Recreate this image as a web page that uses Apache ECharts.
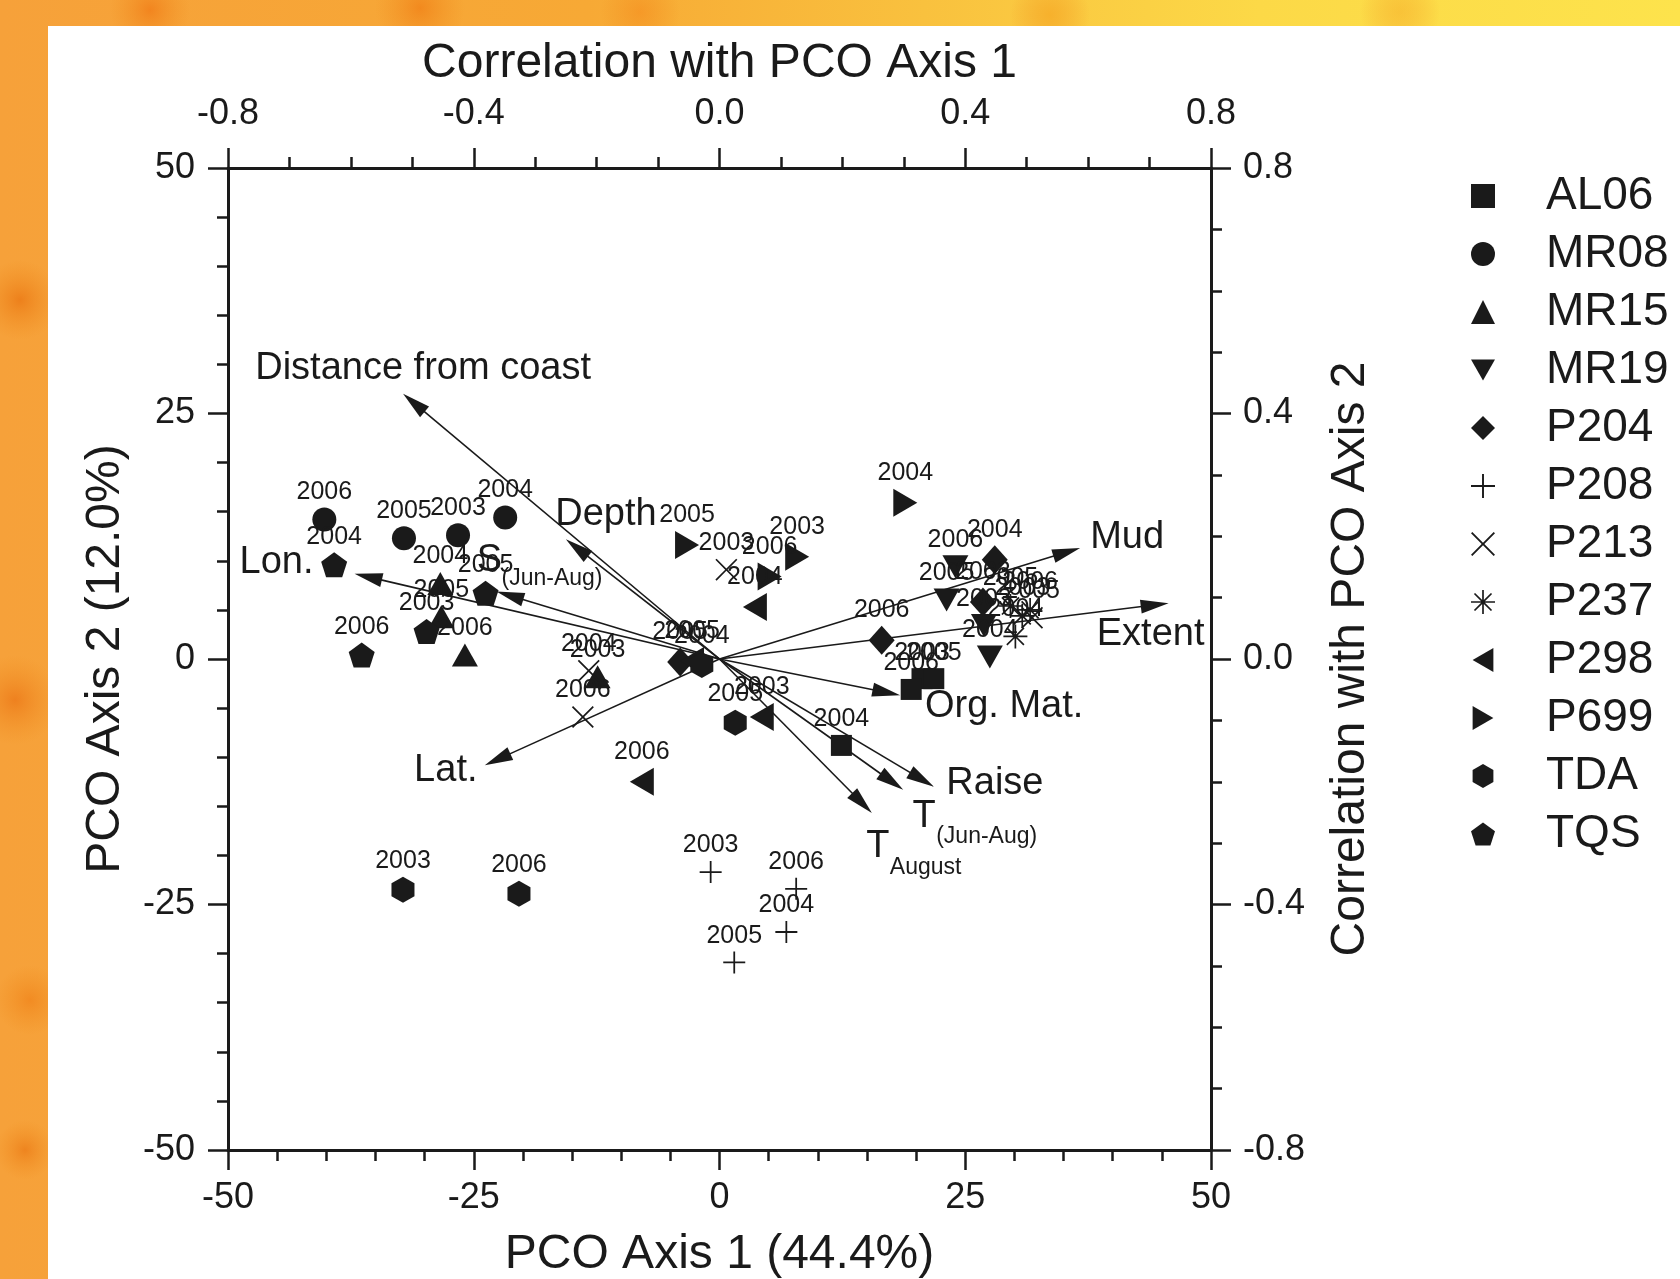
<!DOCTYPE html>
<html><head><meta charset="utf-8">
<script src="https://cdn.jsdelivr.net/npm/echarts@6/dist/echarts.min.js"></script>
<style>html,body{margin:0;padding:0;background:#fff}#c{width:1680px;height:1279px}</style>
</head><body><div id="c"></div>
<script>
// ---------- DATA ----------
const siteNames = ['AL06','MR08','MR15','MR19','P204','P208','P213','P237','P298','P699','TDA','TQS'];
// [PCO1, PCO2, year]
const AL06 = [[12.4,-8.8,'2004'],[20.6,-2.0,'2003'],[21.8,-2.0,'2005'],[19.5,-3.1,'2006']];
const MR08 = [[-40.2,14.2,'2006'],[-32.1,12.3,'2005'],[-26.6,12.6,'2003'],[-21.8,14.4,'2004']];
const MR15 = [[-28.4,7.7,'2004'],[-28.3,4.3,'2005'],[-25.9,0.4,'2006'],[-12.4,-1.8,'2003']];
const MR19 = [[24.0,9.4,'2006'],[23.1,6.0,'2005'],[26.9,3.4,'2003'],[27.5,0.2,'2004']];
const P204 = [[28.0,10.1,'2004'],[16.5,1.9,'2006'],[26.8,5.8,'2003'],[-4.0,-0.3,'2005']];
const P208 = [[-0.9,-21.7,'2003'],[7.8,-23.4,'2006'],[6.8,-27.8,'2004'],[1.5,-30.9,'2005']];
const P213 = [[0.7,9.1,'2003'],[-13.9,-5.9,'2006'],[-13.3,-1.2,'2004'],[31.8,4.2,'2005']];
const P237 = [[30.1,2.3,'2004'],[31.6,5.0,'2006'],[30.8,4.4,'2003'],[29.6,5.4,'2005']];
const P298 = [[3.6,5.3,'2004'],[4.3,-5.9,'2003'],[-7.9,-12.5,'2006'],[-2.8,-0.2,'2005']];
const P699 = [[-3.3,11.6,'2005'],[7.9,10.4,'2003'],[5.1,8.4,'2006'],[18.9,15.9,'2004']];
const TDA  = [[-32.2,-23.5,'2003'],[-20.4,-23.9,'2006'],[1.6,-6.5,'2005'],[-1.8,-0.6,'2004']];
const TQS  = [[-39.2,9.6,'2004'],[-36.4,0.4,'2006'],[-23.8,6.7,'2005'],[-29.8,2.8,'2003']];
const siteData = [AL06,MR08,MR15,MR19,P204,P208,P213,P237,P298,P699,TDA,TQS];

// correlation vectors
const vectorNames = ['Distance from coast','Depth','Lon.','S','Lat.','Mud','Extent','Org. Mat.','Raise','T','T'];
const vectorSubs  = ['','','','(Jun-Aug)','','','','','','(Jun-Aug)','August'];
const vectorX = [-0.515,-0.250,-0.594,-0.363,-0.382,0.587,0.731,0.294,0.349,0.299,0.248];
const vectorY = [ 0.432, 0.195, 0.139, 0.110,-0.173,0.181,0.091,-0.059,-0.208,-0.213,-0.251];

// ---------- STYLE / LAYOUT ----------
const FONT = '"Liberation Sans", Arial, Helvetica, sans-serif';
const INK = '#1a1a1a';
const P_PLUS = 'path://M-0.8,-10L0.8,-10L0.8,-0.8L10,-0.8L10,0.8L0.8,0.8L0.8,10L-0.8,10L-0.8,0.8L-10,0.8L-10,-0.8L-0.8,-0.8Z';
const P_X = 'path://M-10,-8.9L-8.9,-10L0,-1.1L8.9,-10L10,-8.9L1.1,0L10,8.9L8.9,10L0,1.1L-8.9,10L-10,8.9L-1.1,0Z';
const P_STAR = 'path://M-0.7,-10L0.7,-10L0.7,-0.7L10,-0.7L10,0.7L0.7,0.7L0.7,10L-0.7,10L-0.7,0.7L-10,0.7L-10,-0.7L-0.7,-0.7Z' +
  'M-7.6,-6.6L-6.6,-7.6L0,-1L6.6,-7.6L7.6,-6.6L1,0L7.6,6.6L6.6,7.6L0,1L-6.6,7.6L-7.6,6.6L-1,0Z';
const symbolStyles = [
  ['rect',[21,21]],
  ['circle',[24,24]],
  ['triangle',[26,23]],
  ['path://M-10,-8.66L10,-8.66L0,8.66Z',[26,23]],
  ['diamond',[26,29]],
  [P_PLUS,[22,22]],
  [P_X,[22,22]],
  [P_STAR,[24,24]],
  ['path://M-8.66,0L8.66,-10L8.66,10Z',[24,28]],
  ['path://M8.66,0L-8.66,-10L-8.66,10Z',[24,28]],
  ['path://M0,-10L8.66,-5L8.66,5L0,10L-8.66,5L-8.66,-5Z',[23,26]],
  ['path://M0,-10L9.51,-3.09L5.88,8.09L-5.88,8.09L-9.51,-3.09Z',[26,25]]
];
// label offsets (px) from arrow tip: main text centre, subscript left-middle
const labelMainOff = [[20,-25],[40,-25],[-78,-11],[-7,-31],[-39,5],[47,-10],[-18,31],[104,11],[61,-3],[21,27],[6,33]];
const labelSubOff  = [null,null,null,[5,-13],null,null,null,null,null,[33,47],[18,55]];

const chart = echarts.init(document.getElementById('c'), null, {renderer:'canvas'});

function rg(cx, cy, r, c){
  return {type:'circle', z:-99, shape:{cx:cx, cy:cy, r:r}, silent:true,
    style:{fill: new echarts.graphic.RadialGradient(0.5,0.5,0.5,[{offset:0,color:c},{offset:1,color:'rgba(240,140,30,0)'}])}};
}

const series = siteNames.map((n,i)=>({
  name:n, type:'scatter', xAxisIndex:0, yAxisIndex:0, z:5,
  symbol: symbolStyles[i][0], symbolSize: symbolStyles[i][1],
  itemStyle:{color:INK, opacity:1},
  label:{show:true, position:'top', distance:3, fontSize:25, fontFamily:FONT, color:INK,
    formatter: p=>p.value[2]},
  emphasis:{disabled:true},
  data: siteData[i]
}));

series.unshift({
  name:'vectors', type:'custom', xAxisIndex:1, yAxisIndex:1, z:3, clip:false, silent:true,
  data: vectorX.map((x,i)=>[x, vectorY[i]]),
  renderItem: function(params, api){
    const i = params.dataIndex;
    const p0 = api.coord([0,0]);
    const p1 = api.coord([api.value(0), api.value(1)]);
    const dx = p1[0]-p0[0], dy = p1[1]-p0[1];
    const len = Math.hypot(dx,dy);
    const ux = dx/len, uy = dy/len;
    const L = 28, W = 14;
    const bx = p1[0]-ux*L, by = p1[1]-uy*L;
    const ch = [
      {type:'line', shape:{x1:p0[0],y1:p0[1],x2:bx+ux*3,y2:by+uy*3}, style:{stroke:INK,lineWidth:1.6}},
      {type:'polygon', shape:{points:[[p1[0],p1[1]],[bx-uy*W/2, by+ux*W/2],[bx+uy*W/2, by-ux*W/2]]}, style:{fill:INK}}
    ];
    const mo = labelMainOff[i];
    ch.push({type:'text', x:p1[0]+mo[0], y:p1[1]+mo[1],
      style:{text:vectorNames[i], font:'38px '+FONT, fill:INK, align:'center', verticalAlign:'middle'}});
    if (vectorSubs[i]) {
      const so = labelSubOff[i];
      ch.push({type:'text', x:p1[0]+so[0], y:p1[1]+so[1],
        style:{text:vectorSubs[i], font:'23px '+FONT, fill:INK, align:'left', verticalAlign:'middle'}});
    }
    return {type:'group', children:ch};
  }
});

const axisCommon = {
  axisLine:{show:true, onZero:false, lineStyle:{color:INK, width:3}},
  axisTick:{show:true, inside:false, length:20, lineStyle:{color:INK, width:2.5}},
  minorTick:{show:true, length:11, lineStyle:{color:INK, width:2.5}},
  splitLine:{show:false},
  nameLocation:'middle',
  nameTextStyle:{fontSize:48, fontFamily:FONT, color:INK},
};

chart.setOption({
  animation:false,
  backgroundColor:'#fff',
  graphic:[
    {type:'rect', z:-100, silent:true, shape:{x:0,y:0,width:1680,height:1279},
      style:{fill:new echarts.graphic.LinearGradient(0,0,1,0,[
        {offset:0,color:'#f6a13a'},{offset:0.35,color:'#f7a935'},{offset:0.55,color:'#f9c13e'},{offset:0.75,color:'#fcd947'},{offset:1,color:'#fde34c'}])}},
    rg(20,300,40,'rgba(235,120,20,0.8)'), rg(15,700,45,'rgba(235,115,20,0.7)'), rg(30,1000,35,'rgba(240,130,25,0.7)'),
    rg(150,10,40,'rgba(240,120,20,0.7)'), rg(420,8,45,'rgba(240,125,20,0.7)'), rg(640,12,40,'rgba(245,140,30,0.6)'),
    rg(1050,15,40,'rgba(245,160,30,0.6)'), rg(1400,12,40,'rgba(245,170,40,0.5)'), rg(25,1150,30,'rgba(235,120,20,0.7)'),
    {type:'rect', z:-98, silent:true, shape:{x:48,y:26,width:1632,height:1253}, style:{fill:'#ffffff'}}
  ],
  grid:{left:228, right:469, top:168, bottom:129, containLabel:false, outerBoundsMode:'none'},
  legend:{
    orient:'vertical', left:1466, top:168, itemWidth:24, itemHeight:24, itemGap:12,
    selectedMode:false, data: siteNames,
    textStyle:{fontSize:46, lineHeight:46, fontFamily:FONT, color:INK, padding:[0,0,0,46]}
  },
  xAxis:[
    Object.assign({}, axisCommon, {type:'value', position:'bottom', min:-50, max:50, interval:25,
      minorTick:Object.assign({}, axisCommon.minorTick, {splitNumber:5}),
      name:'PCO Axis 1 (44.4%)', nameGap:81,
      axisLabel:{fontSize:36, fontFamily:FONT, color:INK, margin:30}}),
    Object.assign({}, axisCommon, {type:'value', position:'top', min:-0.8, max:0.8, interval:0.4,
      minorTick:Object.assign({}, axisCommon.minorTick, {splitNumber:4}),
      name:'Correlation with PCO Axis 1', nameGap:80,
      axisLabel:{fontSize:36, fontFamily:FONT, color:INK, margin:36, formatter:v=>(Math.abs(v)<1e-9?0:v).toFixed(1)}})
  ],
  yAxis:[
    Object.assign({}, axisCommon, {type:'value', position:'left', min:-50, max:50, interval:25,
      minorTick:Object.assign({}, axisCommon.minorTick, {splitNumber:5}),
      name:'PCO Axis 2 (12.0%)', nameGap:98,
      axisLabel:{fontSize:36, fontFamily:FONT, color:INK, margin:33}}),
    Object.assign({}, axisCommon, {type:'value', position:'right', min:-0.8, max:0.8, interval:0.4,
      minorTick:Object.assign({}, axisCommon.minorTick, {splitNumber:4}),
      name:'Correlation with PCO Axis 2', nameGap:116,
      axisLabel:{fontSize:36, fontFamily:FONT, color:INK, margin:32, formatter:v=>(Math.abs(v)<1e-9?0:v).toFixed(1)}})
  ],
  series: series
});
</script></body></html>
